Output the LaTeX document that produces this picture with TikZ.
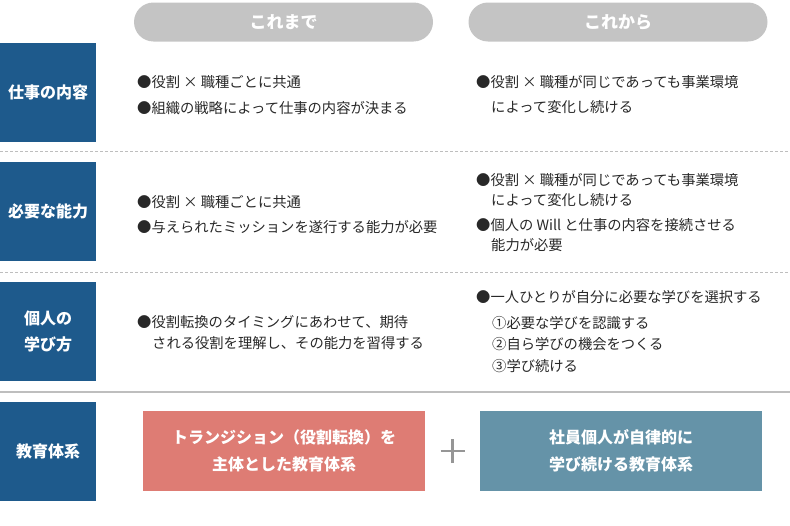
\documentclass[tikz,border=0pt]{standalone}
\usepackage{fontspec}
\setmainfont{Noto Sans CJK JP}
\definecolor{blueC}{RGB}{30,90,140}
\definecolor{pinkC}{RGB}{222,124,116}
\definecolor{tealC}{RGB}{101,147,168}
\definecolor{pillC}{RGB}{196,196,196}
\definecolor{txtC}{RGB}{40,40,40}
\definecolor{sepC}{RGB}{190,190,190}
\definecolor{plusC}{RGB}{150,150,150}
\begin{document}
\begin{tikzpicture}[x=1pt,y=-1pt,
  rowlabel/.style={fill=blueC, text=white, font=\bfseries\fontsize{16}{26}\selectfont,
    minimum width=96pt, minimum height=99pt, inner sep=0pt, align=center, anchor=north west},
  pill/.style={fill=pillC, text=white, font=\bfseries\fontsize{17}{20}\selectfont,
    minimum width=299pt, minimum height=39pt, rounded corners=19.5pt, inner sep=0pt},
  ln/.style={anchor=base west, inner sep=0pt, text=txtC, font=\fontsize{14.3}{17}\selectfont},
  sysbox/.style={text=white, font=\bfseries\fontsize{16}{27}\selectfont,
    minimum width=282pt, minimum height=80pt, inner sep=0pt, align=center, anchor=north west},
  dashsep/.style={draw=sepC, line width=1pt, dash pattern=on 3pt off 2pt},
  solidsep/.style={draw=sepC, line width=1.2pt}
]
\useasboundingbox (0,0) rectangle (790,525);

% headers
\node[pill] (h1) at (283.5,22) {これまで};
\node[pill] (h2) at (618,22) {これから};

% row labels
\node[rowlabel] (r1) at (0,43) {仕事の内容};
\node[rowlabel] (r2) at (0,162) {必要な能力};
\node[rowlabel] (r3) at (0,282) {個人の\\学び方};
\node[rowlabel] (r4) at (0,402) {教育体系};

% separators
\draw[dashsep] (0,151.5) -- (790,151.5);
\draw[dashsep] (0,272.5) -- (790,272.5);
\draw[solidsep] (0,392) -- (790,392);

% row 1
\node[ln] (a1) at (137,87.3) {●役割 × 職種ごとに共通};
\node[ln] (a2) at (137,113.3) {●組織の戦略によって仕事の内容が決まる};
\node[ln] (b1) at (476,87.3) {●役割 × 職種が同じであっても事業環境};
\node[ln] (b2) at (491,112.3) {によって変化し続ける};

% row 2
\node[ln] (c1) at (137,207.3) {●役割 × 職種ごとに共通};
\node[ln] (c2) at (137,232.3) {●与えられたミッションを遂行する能力が必要};
\node[ln] (d1) at (476,185.3) {●役割 × 職種が同じであっても事業環境};
\node[ln] (d2) at (491,205.3) {によって変化し続ける};
\node[ln] (d3) at (476,230.3) {●個人の Will と仕事の内容を接続させる};
\node[ln] (d4) at (491,250.3) {能力が必要};

% row 3
\node[ln] (e1) at (137,327.3) {●役割転換のタイミングにあわせて、期待};
\node[ln] (e2) at (152,348.3) {される役割を理解し、その能力を習得する};
\node[ln] (f1) at (476,302.3) {●一人ひとりが自分に必要な学びを選択する};
\node[ln] (f2) at (492,328.3) {①必要な学びを認識する};
\node[ln] (f3) at (492,349.3) {②自ら学びの機会をつくる};
\node[ln] (f4) at (492,371.3) {③学び続ける};

% row 4
\node[sysbox, fill=pinkC] (g1) at (143,411) {トランジション（役割転換）を\\主体とした教育体系};
\node[sysbox, fill=tealC] (g2) at (480,411) {社員個人が自律的に\\学び続ける教育体系};
\coordinate (pc) at (452.5,451);
\draw[plusC, line width=2.2pt] ([xshift=-12pt]pc) -- ([xshift=12pt]pc);
\draw[plusC, line width=2.2pt] ([yshift=-12pt]pc) -- ([yshift=12pt]pc);
\end{tikzpicture}
\end{document}
